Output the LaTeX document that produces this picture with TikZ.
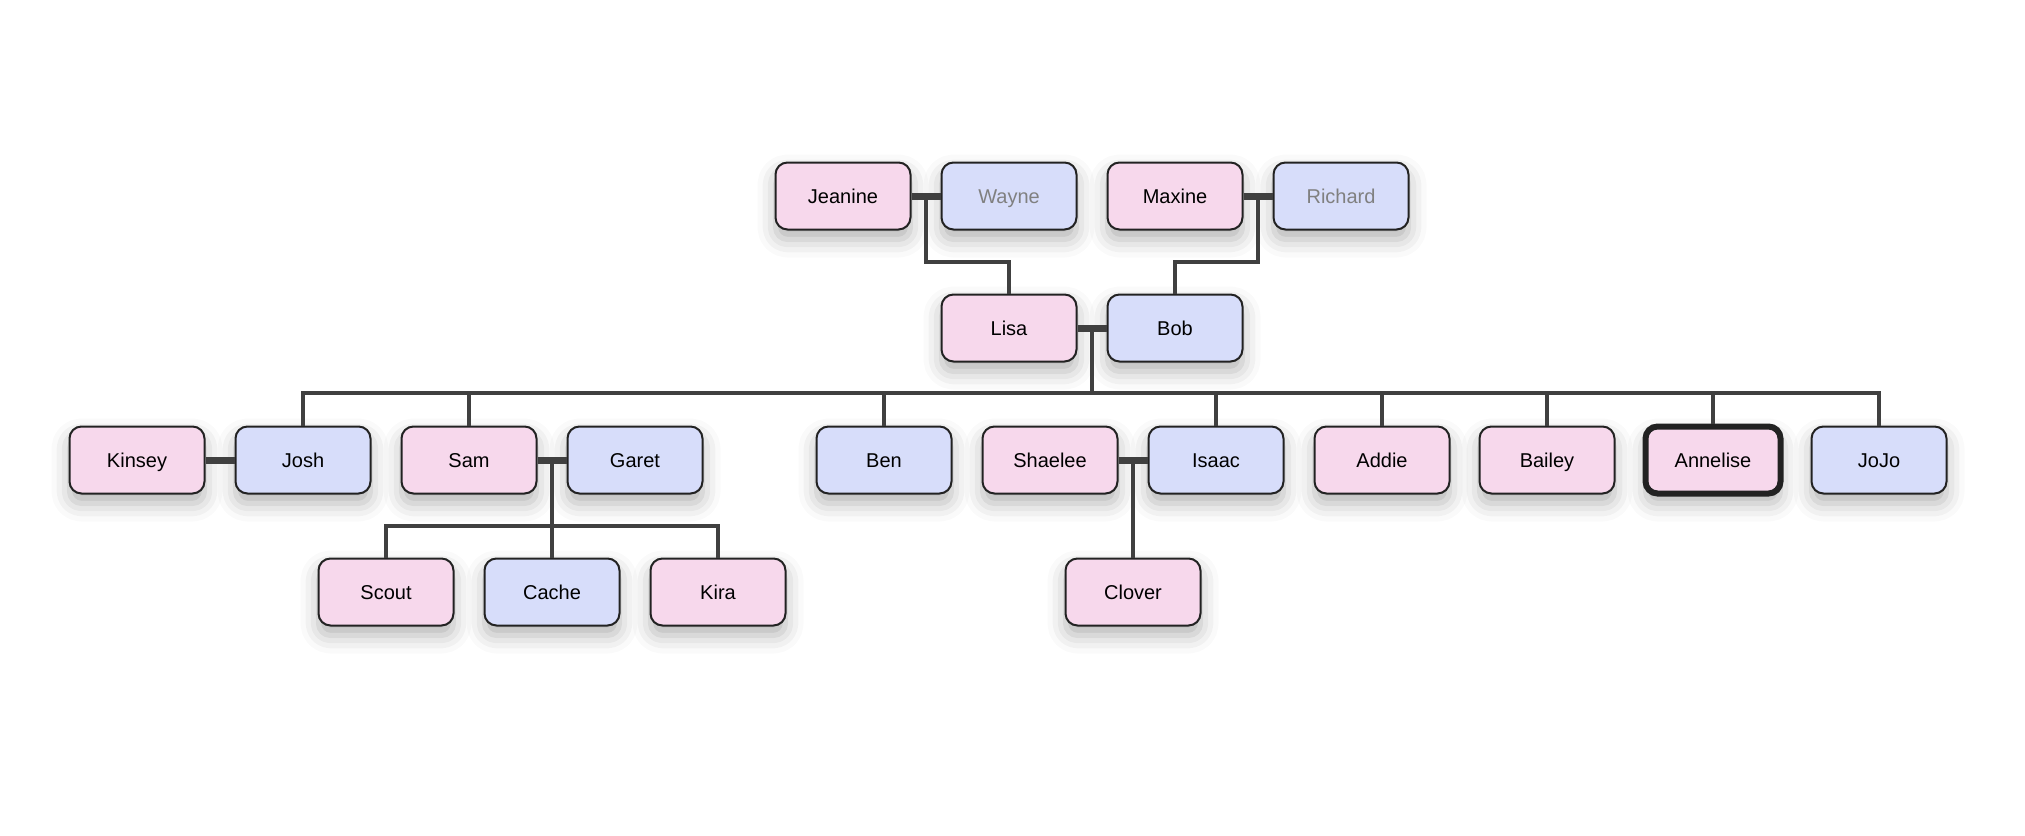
\documentclass[tikz,border=0pt]{standalone}
\usepackage{fontspec}
\setmainfont{Liberation Sans}
\usetikzlibrary{calc,shadows.blur}
\definecolor{pinkf}{RGB}{247,216,236}
\definecolor{bluef}{RGB}{215,221,250}
\definecolor{edgec}{RGB}{34,34,34}
\definecolor{connc}{RGB}{64,64,64}
\definecolor{faded}{RGB}{128,128,128}
\tikzset{
  person/.style={draw=edgec, line width=2pt, rounded corners=12pt,
    minimum width=135pt, minimum height=67pt, inner sep=0pt,
    text height=16pt, text depth=1.7pt,
    font=\fontsize{20}{24}\selectfont,
    blur shadow={shadow xshift=0pt, shadow yshift=-10pt, shadow blur radius=18pt, shadow opacity=30}},
  fem/.style={person, fill=pinkf},
  mal/.style={person, fill=bluef},
  gone/.style={text=faded},
  me/.style={line width=6pt},
  couplebar/.style={draw=connc, line width=7pt},
  link/.style={draw=connc, line width=3.5pt},
}
\begin{document}
\begin{tikzpicture}[x=1pt,y=-1pt]
\useasboundingbox (0,0) rectangle (2025,835);
% row 1
\node[fem] (jeanine) at (843,196) {Jeanine};
\node[mal,gone] (wayne) at (1009,196) {Wayne};
\node[fem] (maxine) at (1175,196) {Maxine};
\node[mal,gone] (richard) at (1341,196) {Richard};
% row 2
\node[fem] (lisa) at (1009,328) {Lisa};
\node[mal] (bob) at (1175,328) {Bob};
% row 3
\node[fem] (kinsey) at (137,460) {Kinsey};
\node[mal] (josh) at (303,460) {Josh};
\node[fem] (sam) at (469,460) {Sam};
\node[mal] (garet) at (635,460) {Garet};
\node[mal] (ben) at (884,460) {Ben};
\node[fem] (shaelee) at (1050,460) {Shaelee};
\node[mal] (isaac) at (1216,460) {Isaac};
\node[fem] (addie) at (1382,460) {Addie};
\node[fem] (bailey) at (1547,460) {Bailey};
\node[fem,me] (annelise) at (1713,460) {Annelise};
\node[mal] (jojo) at (1879,460) {JoJo};
% row 4
\node[fem] (scout) at (386,592) {Scout};
\node[mal] (cache) at (552,592) {Cache};
\node[fem] (kira) at (718,592) {Kira};
\node[fem] (clover) at (1133,592) {Clover};

% couple midpoints
\coordinate (jw) at ($(jeanine.east)!0.5!(wayne.west)$);
\coordinate (mr) at ($(maxine.east)!0.5!(richard.west)$);
\coordinate (lb) at ($(lisa.east)!0.5!(bob.west)$);
\coordinate (sg) at ($(sam.east)!0.5!(garet.west)$);
\coordinate (si) at ($(shaelee.east)!0.5!(isaac.west)$);
\coordinate (lbbus) at ($(lb)+(0,65)$);
\coordinate (sgbus) at ($(sg)+(0,66)$);

% couple bars
\draw[couplebar] (jeanine.east) -- (wayne.west);
\draw[couplebar] (maxine.east) -- (richard.west);
\draw[couplebar] (lisa.east) -- (bob.west);
\draw[couplebar] (kinsey.east) -- (josh.west);
\draw[couplebar] (sam.east) -- (garet.west);
\draw[couplebar] (shaelee.east) -- (isaac.west);

% parent links
\draw[link] (jw) -- ++(0,66) -| (lisa.north);
\draw[link] (mr) -- ++(0,66) -| (bob.north);
\draw[link] (lb) -- (lbbus);
\draw[link] (josh.north) |- (lbbus) -| (jojo.north);
\foreach \c in {sam,ben,isaac,addie,bailey,annelise}
  \draw[link] (lbbus -| \c.north) -- (\c.north);
\draw[link] (sg) -- (cache.north);
\draw[link] (scout.north) |- (sgbus) -| (kira.north);
\draw[link] (si) -- (clover.north);
\end{tikzpicture}
\end{document}
